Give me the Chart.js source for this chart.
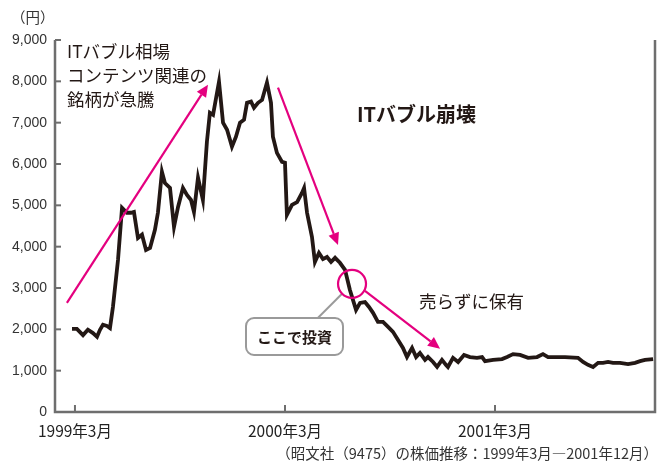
<!DOCTYPE html>
<html>
<head>
<meta charset="utf-8">
<script src="https://cdn.jsdelivr.net/npm/chart.js@4.4.1/dist/chart.umd.min.js"></script>
<style>
html,body{margin:0;padding:0;background:#fff;}
#wrap{width:670px;height:476px;}
</style>
</head>
<body>
<div id="wrap"><canvas id="priceChart" width="670" height="476"></canvas></div>
<script>
// 昭文社(9475) 株価推移  months = months since 1999年3月

const months=[-0.17,0.11,0.46,0.74,1.03,1.26,1.43,1.6,1.83,2.0,2.17,2.46,2.69,2.97,3.2,3.37,3.6,3.83,4.06,4.29,4.57,4.74,4.97,5.14,5.43,5.66,5.89,6.17,6.4,6.63,6.8,7.03,7.31,7.54,7.71,7.89,8.23,8.46,8.69,8.97,9.2,9.43,9.66,9.83,10.06,10.23,10.46,10.69,10.97,11.2,11.31,11.54,11.83,12.0,12.11,12.4,12.69,12.97,13.09,13.26,13.54,13.71,13.94,14.17,14.4,14.63,14.86,15.14,15.43,15.71,16.06,16.29,16.57,16.8,17.03,17.31,17.6,17.89,18.17,18.46,18.74,18.97,19.26,19.49,19.71,20.0,20.17,20.46,20.69,20.97,21.2,21.31,21.6,21.89,22.23,22.57,22.97,23.26,23.43,23.89,24.4,24.69,25.03,25.43,25.89,26.4,26.74,27.03,27.54,28.0,28.74,29.03,29.31,29.6,29.89,30.17,30.46,30.74,31.14,31.6,32.0,32.29,32.57,33.03];

const prices=[2010,2010,1860,1990,1910,1820,1990,2110,2080,2030,2540,3680,4940,4820,4820,4840,4210,4290,3920,3970,4410,4820,5810,5540,5420,4480,4960,5420,5250,5130,4840,5670,5130,6540,7240,7190,7990,7000,6830,6420,6660,7000,7070,7480,7510,7360,7480,7550,7970,7480,6660,6270,6050,6030,4770,5010,5080,5300,5420,4820,4240,3630,3850,3700,3750,3630,3730,3610,3440,2950,2470,2640,2660,2540,2400,2180,2180,2060,1940,1740,1550,1330,1550,1330,1430,1260,1330,1210,1090,1260,1140,1090,1310,1210,1380,1330,1310,1330,1230,1260,1280,1330,1400,1380,1310,1330,1400,1330,1330,1330,1310,1210,1140,1090,1190,1190,1210,1190,1190,1160,1190,1230,1260,1280];

const tickMonths=[0,12,24];
const tickLabels=['1999年3月','2000年3月','2001年3月'];
const yTicks=[0,1000,2000,3000,4000,5000,6000,7000,8000,9000];

const AXIS='#6e6e6e';
const PINK='#e4007f';
const INK='#231815';
const JP="'Noto Sans CJK JP','Noto Sans',sans-serif";

// axes frame with inward ticks
const framePlugin={
id:'frame',
beforeDatasetsDraw(chart){
const {ctx,chartArea:a,scales:{x,y}}=chart;
ctx.save();
ctx.strokeStyle=AXIS;
ctx.lineWidth=2.5;
ctx.beginPath();
ctx.moveTo(a.left,a.top);ctx.lineTo(a.left,a.bottom);ctx.lineTo(a.right,a.bottom);ctx.lineTo(a.right,a.top);
ctx.stroke();
ctx.lineWidth=2;
yTicks.forEach(v=>{
if(v===0)return;
const py=y.getPixelForValue(v);
ctx.beginPath();ctx.moveTo(a.left,py);ctx.lineTo(a.left+6,py);ctx.stroke();
});
tickMonths.forEach(m=>{
const px=x.getPixelForValue(m);
ctx.beginPath();ctx.moveTo(px,a.bottom);ctx.lineTo(px,a.bottom-7);ctx.stroke();
});
ctx.restore();
}
};

function arrow(ctx,x1,y1,x2,y2){
const ang=Math.atan2(y2-y1,x2-x1);
const L=12,W=5.5;
const bx=x2-L*Math.cos(ang),by=y2-L*Math.sin(ang);
ctx.beginPath();ctx.moveTo(x1,y1);ctx.lineTo(bx,by);ctx.stroke();
ctx.beginPath();
ctx.moveTo(x2,y2);
ctx.lineTo(bx+W*Math.sin(ang),by-W*Math.cos(ang));
ctx.lineTo(bx-W*Math.sin(ang),by+W*Math.cos(ang));
ctx.closePath();ctx.fill();
}

// notes, arrows, circle
const notesPlugin={
id:'notes',
afterDraw(chart){
const {ctx,scales:{x,y}}=chart;
const P=(m,v)=>[x.getPixelForValue(m),y.getPixelForValue(v)];
ctx.save();

ctx.fillStyle='#333';
ctx.font="14.5px "+JP;
ctx.textBaseline='middle';
ctx.textAlign='left';
ctx.fillText('（円）',11,17);

ctx.fillStyle=INK;
ctx.font="17.5px "+JP;
ctx.fillText('ITバブル相場',67,51);
ctx.fillText('コンテンツ関連の',67,75);
ctx.fillText('銘柄が急騰',67,99);
ctx.fillText('売らずに保有',419,301);
ctx.font="bold 20px "+JP;
ctx.fillText('ITバブル崩壊',357,114);

ctx.fillStyle='#333';
ctx.font="14.5px "+JP;
ctx.textAlign='right';
ctx.fillText('（昭文社（9475）の株価推移：1999年3月―2001年12月）',658,453);

// grey connector and box
ctx.strokeStyle='#9a9a9a';
ctx.lineWidth=2;
const [c1x,c1y]=P(15.26,2860),[c2x,c2y]=P(13.89,2280);
ctx.beginPath();ctx.moveTo(c1x,c1y);ctx.lineTo(c2x,c2y);ctx.stroke();
ctx.fillStyle='#fff';
ctx.beginPath();ctx.roundRect(246,318,97,37,8);ctx.fill();ctx.stroke();
ctx.fillStyle=INK;
ctx.font="bold 15px "+JP;
ctx.textAlign='center';
ctx.fillText('ここで投資',294.5,337);

// pink marks
ctx.strokeStyle=PINK;ctx.fillStyle=PINK;ctx.lineWidth=2.2;
let [ax,ay]=P(-0.46,2640),[bx,by]=P(7.6,7920);
arrow(ctx,ax,ay,bx,by);
[ax,ay]=P(11.6,7850);[bx,by]=P(15.03,4040);
arrow(ctx,ax,ay,bx,by);
[ax,ay]=P(16.57,2930);[bx,by]=P(20.86,1530);
arrow(ctx,ax,ay,bx,by);
const [cx,cy]=P(15.83,3100);
ctx.beginPath();ctx.arc(cx,cy,14,0,Math.PI*2);ctx.stroke();
ctx.restore();
}
};

new Chart(document.getElementById('priceChart'),{
type:'line',
data:{
labels:months,
datasets:[{
data:months.map((m,i)=>({x:m,y:prices[i]})),
borderColor:INK,
borderWidth:3.8,
pointRadius:0,
tension:0,
fill:false
}]
},
options:{
responsive:false,
animation:false,
events:[],
layout:{padding:{top:40,right:15,left:0,bottom:0}},
plugins:{legend:{display:false},tooltip:{enabled:false}},
scales:{
x:{
type:'linear',
min:-1.14,max:33.14,
grid:{display:false,drawTicks:false},
border:{display:false},
afterBuildTicks:s=>{s.ticks=tickMonths.map(v=>({value:v}));},
afterFit:s=>{s.height=64;},
ticks:{
padding:10,
maxRotation:0,
autoSkip:false,
color:'#222',
font:{family:"'Liberation Sans Narrow','Noto Sans CJK JP',sans-serif",size:15.5},
callback:v=>tickLabels[tickMonths.indexOf(v)]
}
},
y:{
min:0,max:9000,
grid:{display:false,drawTicks:false},
border:{display:false},
afterBuildTicks:s=>{s.ticks=yTicks.map(v=>({value:v}));},
afterFit:s=>{s.width=55;},
ticks:{
padding:8,
color:'#333',
font:{family:"'Liberation Sans','Noto Sans',sans-serif",size:14},
callback:v=>v===0?'0':v.toLocaleString('en-US')
}
}
}
},
plugins:[framePlugin,notesPlugin]
});
</script>
</body>
</html>
